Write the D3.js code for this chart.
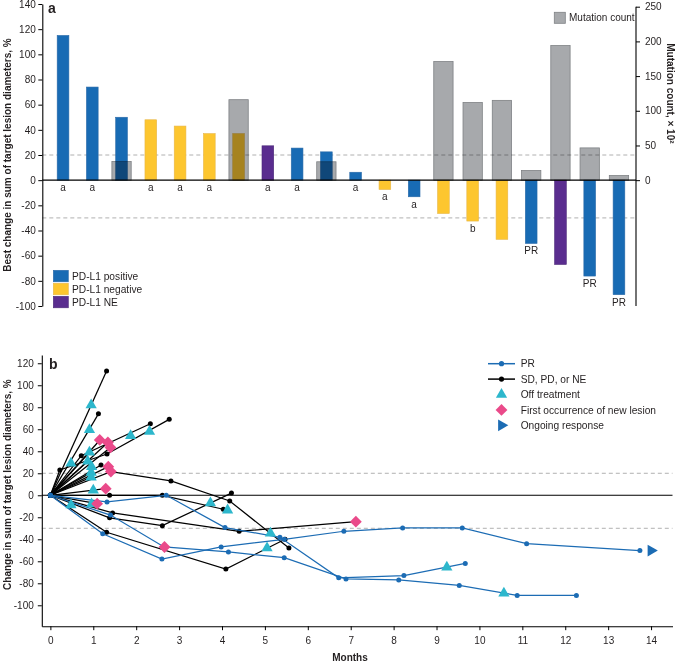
<!DOCTYPE html>
<html>
<head>
<meta charset="utf-8">
<script src="https://cdn.jsdelivr.net/npm/d3@7"></script>
<style>
  html, body { margin: 0; padding: 0; background: #fff; }
  svg { display: block; font-family: "Liberation Sans", Arial, sans-serif; }
</style>
</head>
<body>
<svg id="chart" width="676" height="662"></svg>
<script>
// ---------------- Panel a data ----------------
const patients = d3.range(1, 21).map(String);
const bestChange = [115, 74, 50, 48, 43, 37, 37, 27.3, 25.5, 22.5, 6.3, -7.4, -13.2, -26.5, -32.5, -47, -50.3, -67, -76.2, -91];
const pdl1Status = ["pos","pos","pos","neg","neg","neg","neg","ne","pos","pos","pos","neg","pos","neg","neg","neg","pos","ne","pos","pos"];
const mutationCount = [null, null, 27, null, null, null, 116, null, null, 26.5, null, null, null, 171, 112, 115, 14, 194, 46.5, 6.7];
const barNotes = ["a","a","","a","a","a","","a","a","","a","a","a","","b","","PR","","PR","PR"];
const leftTicksA = [-100, -80, -60, -40, -20, 0, 20, 40, 60, 80, 100, 120, 140];
const rightTicksA = [0, 50, 100, 150, 200, 250];
const pdl1Legend = [["pos", "PD-L1 positive"], ["neg", "PD-L1 negative"], ["ne", "PD-L1 NE"]];

// ---------------- Panel b data ----------------
const prSeries = [
  [[0,0],[1.32,-6],[2.7,0],[4.07,-29.4],[5.35,-38.2],[6.72,-75],[8.24,-73],[9.67,-62]],
  [[0,0],[1.22,-35],[2.6,-58],[3.98,-47],[5.45,-40],[6.84,-32.7],[8.21,-29.7],[9.6,-29.7],[11.1,-44],[13.74,-50.3]],
  [[0,0],[1.4,-18],[2.65,-47],[4.15,-51.5],[5.45,-56.7],[6.89,-76],[8.12,-77],[9.53,-82],[10.88,-91],[12.26,-91]]
];
const otherSeries = [
  [[0,0],[1.31,113]],
  [[0,0],[1.12,74]],
  [[0,0],[0.72,36],[2.33,65]],
  [[0,0],[0.22,23],[1.32,37.5],[2.77,69]],
  [[0,0],[1.15,50]],
  [[0,0],[1.34,48]],
  [[0,0],[1.4,43.5]],
  [[0,0],[0.91,39]],
  [[0,0],[0.87,31]],
  [[0,0],[1.18,27.5]],
  [[0,0],[1.35,26]],
  [[0,0],[0.95,20.6]],
  [[0,0],[1.41,21.5],[2.81,13],[4.18,-5.2],[5.56,-48]],
  [[0,0],[0.95,16.5]],
  [[0,0],[1.29,6]],
  [[0,0],[1.38,0],[2.61,0],[4.03,-12.7]],
  [[0,0],[1.09,-7.6]],
  [[0,0],[1.45,-16],[4.4,-32.7],[7.12,-24]],
  [[0,0],[1.38,-20.5],[2.61,-27.6],[4.22,2]],
  [[0,0],[1.31,-33.6],[4.09,-67],[5.47,-40]]
];
const offTreatment = [[0.95,82],[0.91,59.5],[1.87,54],[2.31,58],[0.48,29],[0.91,39],[0.87,31],[0.96,26],[0.95,20.6],[0.95,16.5],[1.0,4.5],[0.96,-8],[0.48,-8.8],[3.73,-7],[4.13,-13.5],[5.13,-34.5],[5.05,-48],[9.24,-65.5],[10.57,-89]];
const newLesion = [[1.15,50.3],[1.34,48],[1.4,43.5],[1.35,26],[1.41,21.5],[1.29,6],[1.09,-7.6],[2.66,-47],[7.12,-24]];
const ongoing = [[14.0,-50.3]];
const monthTicks = d3.range(0, 15);
const changeTicksB = [-100, -80, -60, -40, -20, 0, 20, 40, 60, 80, 100, 120];
const legendB = ["PR", "SD, PD, or NE", "Off treatment", "First occurrence of new lesion", "Ongoing response"];

// ---------------- Styles ----------------
const C = {
  pos: "#186bb4", neg: "#fdc62f", ne: "#5a2d8f",
  gray: "#a7a9ac", grayStroke: "#7f8285",
  line: "#1c6cb4", tri: "#2db7cc", pink: "#ea4a8a", dash: "#b0b0b0"
};
const strokeOf = { pos: "#2a6aa8", neg: "#e7b64a", ne: "#4c2a78" };
const FONT = "Liberation Sans, Arial, sans-serif";
const TXT = "#231f20";
const plainFmt = d => String(d);

const svg = d3.select("#chart");

// ================= Panel A =================
const gA = svg.append("g");
const xA = d3.scaleBand().domain(patients).range([48.4, 633.6]).padding(0);
const yA = d3.scaleLinear().domain([-100, 140]).range([306, 4]);
const yM = d3.scaleLinear().domain([0, 250]).range([yA(0), 6.7]);
const bw = xA.bandwidth();
const colW = bw * 0.40, grayW = bw * 0.66;

[20, -30].forEach(v => {
  gA.append("line").attr("x1", 42.3).attr("x2", 636).attr("y1", yA(v)).attr("y2", yA(v))
    .attr("stroke", C.dash).attr("stroke-width", 1).attr("stroke-dasharray", "4,3");
});

gA.selectAll(".bar").data(patients).enter().append("rect")
  .attr("x", d => xA(d) + bw / 2 - colW / 2)
  .attr("width", colW)
  .attr("y", (d, i) => yA(Math.max(0, bestChange[i])))
  .attr("height", (d, i) => Math.abs(yA(bestChange[i]) - yA(0)))
  .attr("fill", (d, i) => C[pdl1Status[i]])
  .attr("stroke", (d, i) => strokeOf[pdl1Status[i]])
  .attr("stroke-width", 0.6);

gA.selectAll(".mut").data(patients.filter((d, i) => mutationCount[i] != null)).enter().append("rect")
  .attr("x", d => xA(d) + bw / 2 - grayW / 2)
  .attr("width", grayW)
  .attr("y", d => yM(mutationCount[+d - 1]))
  .attr("height", d => yM(0) - yM(mutationCount[+d - 1]))
  .attr("fill", C.gray)
  .attr("stroke", C.grayStroke)
  .attr("stroke-width", 0.8)
  .style("mix-blend-mode", "multiply");

gA.append("line").attr("x1", 42.3).attr("x2", 636).attr("y1", yA(0)).attr("y2", yA(0))
  .attr("stroke", "#000").attr("stroke-width", 1.1);

gA.selectAll(".note").data(patients).enter().append("text")
  .attr("x", d => xA(d) + bw / 2)
  .attr("y", (d, i) => bestChange[i] >= 0 ? yA(0) + 10.5 : yA(bestChange[i]) + 11)
  .attr("text-anchor", "middle").attr("font-size", 10).attr("fill", TXT)
  .text((d, i) => barNotes[i]);

const axL = gA.append("g").attr("transform", "translate(42.3,0)")
  .call(d3.axisLeft(yA).tickValues(leftTicksA).tickFormat(plainFmt).tickSize(4).tickPadding(2.5).tickSizeOuter(0));
axL.selectAll("text").attr("font-size", 10).attr("fill", TXT).attr("font-family", FONT);
axL.select(".domain").attr("stroke", "#000").attr("stroke-width", 1.1);
axL.selectAll(".tick line").attr("stroke", "#000");

const axR = gA.append("g").attr("transform", "translate(636,0)")
  .call(d3.axisRight(yM).tickValues(rightTicksA).tickFormat(plainFmt).tickSize(4).tickPadding(5).tickSizeOuter(0));
axR.selectAll("text").attr("font-size", 10).attr("fill", TXT).attr("font-family", FONT);
axR.select(".domain").remove();
axR.selectAll(".tick line").attr("stroke", "#000");
gA.append("line").attr("x1", 636).attr("x2", 636).attr("y1", yM(250)).attr("y2", 306)
  .attr("stroke", "#000").attr("stroke-width", 1.1);

gA.append("text").attr("transform", `translate(10.5,${(yA(140) + yA(-100)) / 2}) rotate(-90)`)
  .attr("text-anchor", "middle").attr("font-size", 10).attr("font-weight", "bold").attr("fill", TXT)
  .text("Best change in sum of target lesion diameters, %");
gA.append("text").attr("transform", `translate(666.5,${(yM(0) + yM(250)) / 2}) rotate(90)`)
  .attr("text-anchor", "middle").attr("font-size", 10).attr("font-weight", "bold").attr("fill", TXT)
  .text("Mutation count, \u00d7 10\u00b2");

gA.append("text").attr("x", 48).attr("y", 13).attr("font-size", 14).attr("font-weight", "bold").attr("fill", TXT).text("a");

pdl1Legend.forEach((d, i) => {
  const y0 = 270.3 + i * 13;
  gA.append("rect").attr("x", 53.3).attr("y", y0).attr("width", 15).attr("height", 11.5)
    .attr("fill", C[d[0]]).attr("stroke", strokeOf[d[0]]).attr("stroke-width", 0.6);
  gA.append("text").attr("x", 72).attr("y", y0 + 9.5).attr("font-size", 10.2).attr("fill", TXT).text(d[1]);
});
gA.append("rect").attr("x", 554.3).attr("y", 12.3).attr("width", 11).attr("height", 11)
  .attr("fill", C.gray).attr("stroke", C.grayStroke).attr("stroke-width", 0.8);
gA.append("text").attr("x", 569).attr("y", 21.4).attr("font-size", 10).attr("fill", TXT).text("Mutation count");

// ================= Panel B =================
const gB = svg.append("g");
const xB = d3.scaleLinear().domain([-0.2, 14.5]).range([41.8, 672.5]);
const yB = d3.scaleLinear().domain([-119, 127.5]).range([626.2, 355]);

[20, -30].forEach(v => {
  gB.append("line").attr("x1", 41.8).attr("x2", 672.5).attr("y1", yB(v)).attr("y2", yB(v))
    .attr("stroke", C.dash).attr("stroke-width", 1).attr("stroke-dasharray", "4,3");
});
gB.append("line").attr("x1", 41.8).attr("x2", 672.5).attr("y1", yB(0)).attr("y2", yB(0))
  .attr("stroke", "#000").attr("stroke-width", 1.1);

const lineGen = d3.line().x(d => xB(d[0])).y(d => yB(d[1]));

function drawSeries(list, color, r) {
  const g = gB.append("g");
  list.forEach(s => {
    g.append("path").attr("d", lineGen(s)).attr("fill", "none")
      .attr("stroke", color).attr("stroke-width", 1.25);
  });
  list.forEach(s => {
    g.selectAll(null).data(s).enter().append("circle")
      .attr("cx", d => xB(d[0])).attr("cy", d => yB(d[1])).attr("r", r).attr("fill", color);
  });
}
drawSeries(otherSeries, "#000", 2.5);
drawSeries(prSeries, C.line, 2.5);

const triPath = d3.symbol().type(d3.symbolTriangle).size(55)();
const diaPath = d3.symbol().type(d3.symbolSquare).size(70)();
const arrPath = d3.symbol().type(d3.symbolTriangle).size(60)();

gB.selectAll(".tri").data(offTreatment).enter().append("path")
  .attr("d", triPath).attr("fill", C.tri)
  .attr("transform", d => `translate(${xB(d[0])},${yB(d[1])})`);
gB.selectAll(".dia").data(newLesion).enter().append("path")
  .attr("d", diaPath).attr("fill", C.pink)
  .attr("transform", d => `translate(${xB(d[0])},${yB(d[1])}) rotate(45)`);
gB.selectAll(".arr").data(ongoing).enter().append("path")
  .attr("d", arrPath).attr("fill", C.line)
  .attr("transform", d => `translate(${xB(d[0])},${yB(d[1])}) rotate(90)`);

const axBx = gB.append("g").attr("transform", `translate(0,${yB(-119)})`)
  .call(d3.axisBottom(xB).tickValues(monthTicks).tickFormat(plainFmt).tickSize(4).tickPadding(7).tickSizeOuter(0));
axBx.selectAll("text").attr("font-size", 10).attr("fill", TXT).attr("font-family", FONT);
axBx.select(".domain").attr("stroke", "#000").attr("stroke-width", 1.1);
axBx.selectAll(".tick line").attr("stroke", "#000");

const axBy = gB.append("g").attr("transform", `translate(${xB(-0.2)},0)`)
  .call(d3.axisLeft(yB).tickValues(changeTicksB).tickFormat(plainFmt).tickSize(4).tickPadding(4).tickSizeOuter(0));
axBy.selectAll("text").attr("font-size", 10).attr("fill", TXT).attr("font-family", FONT);
axBy.select(".domain").attr("stroke", "#000").attr("stroke-width", 1.1);
axBy.selectAll(".tick line").attr("stroke", "#000");

gB.append("text").attr("x", 350).attr("y", 661).attr("text-anchor", "middle")
  .attr("font-size", 10).attr("font-weight", "bold").attr("fill", TXT).text("Months");
gB.append("text").attr("transform", `translate(10.5,${(yB(-119) + yB(127.5)) / 2 - 6}) rotate(-90)`)
  .attr("text-anchor", "middle").attr("font-size", 10).attr("font-weight", "bold").attr("fill", TXT)
  .text("Change in sum of target lesion diameters, %");
gB.append("text").attr("x", 49).attr("y", 369).attr("font-size", 14).attr("font-weight", "bold").attr("fill", TXT).text("b");

legendB.forEach((label, i) => {
  const cy = 363.7 + i * 15.4;
  const cx = 501.5;
  if (i === 0 || i === 1) {
    const col = i === 0 ? C.line : "#000";
    gB.append("line").attr("x1", 488).attr("x2", 515).attr("y1", cy).attr("y2", cy)
      .attr("stroke", col).attr("stroke-width", 1.5);
    gB.append("circle").attr("cx", cx).attr("cy", cy).attr("r", 2.6).attr("fill", col);
  } else if (i === 2) {
    gB.append("path").attr("d", triPath).attr("fill", C.tri).attr("transform", `translate(${cx},${cy})`);
  } else if (i === 3) {
    gB.append("path").attr("d", diaPath).attr("fill", C.pink).attr("transform", `translate(${cx},${cy}) rotate(45)`);
  } else {
    gB.append("path").attr("d", arrPath).attr("fill", C.line).attr("transform", `translate(${cx},${cy}) rotate(90)`);
  }
  gB.append("text").attr("x", 520.7).attr("y", cy + 3.6).attr("font-size", 10.2).attr("fill", TXT).text(label);
});
</script>
</body>
</html>
